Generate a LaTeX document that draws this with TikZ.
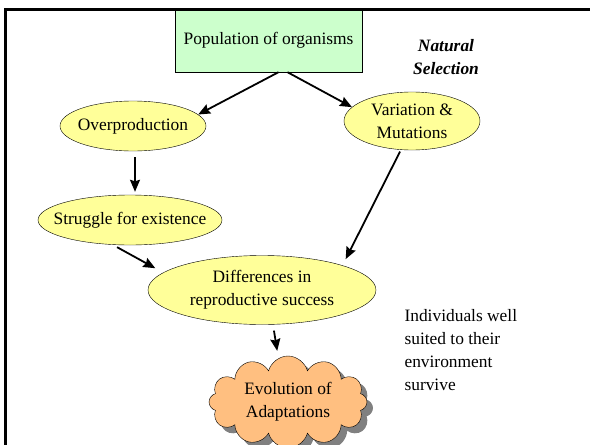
\documentclass[tikz,border=0pt]{standalone}
\usepackage{fontspec}
\setmainfont{Liberation Serif}
\usetikzlibrary{shapes.geometric, shapes.symbols, shadows, arrows.meta}

\definecolor{popgreen}{HTML}{CCFFCC}
\definecolor{stageyellow}{HTML}{FFFF99}
\definecolor{evoorange}{HTML}{FFBF80}

\begin{document}
\begin{tikzpicture}[x=1pt, y=-1pt,
    every node/.style={font=\fontsize{17.4}{23}\selectfont},
    stage/.style={ellipse, draw, fill=stageyellow, inner xsep=-15pt, inner ysep=-8pt, align=center},
    link/.style={line width=1.8pt, -{Stealth[length=12pt, width=10pt, inset=1.5pt]}}]
					\clip (0,0) rectangle (590,445);
					
					\node[draw, fill=popgreen, minimum width=187pt, minimum height=63pt] (pop) at (268.5,40.5) {Population of organisms};
					\node[align=center, font=\fontsize{17.4}{23}\selectfont\bfseries\itshape] (title) at (446,57) {Natural\\Selection};
					
					\node[stage, minimum width=146pt, minimum height=50pt] (over) at (133,126) {Overproduction};
					\node[stage, minimum width=136pt, minimum height=58pt] (var) at (412,121) {Variation \&\\Mutations};
					\node[stage, minimum width=184pt, minimum height=50pt] (strug) at (130,220) {Struggle for existence};
					\node[stage, minimum width=228pt, minimum height=69pt] (diff) at (262,290) {Differences in\\reproductive success};
					
					\node[cloud, draw, fill=evoorange, cloud puffs=12, cloud ignores aspect, inner sep=-10pt, minimum width=158pt, minimum height=92pt, align=center,
					      drop shadow={shadow xshift=6pt, shadow yshift=-6pt, fill=gray, opacity=1}] (evo) at (288,402) {Evolution of\\Adaptations};
					
					\node[anchor=west, align=left] (note) at (401,350) {Individuals well\\suited to their\\environment\\survive};
					
					\draw[link] ([xshift=10pt]pop.south) -- (over.10);
					\draw[link] ([xshift=19pt]pop.south) -- (var.167);
					\draw[link, shorten <=6pt, shorten >=3pt] ([xshift=2pt]over.south) -- ([xshift=2pt]over.south |- strug.north);
					\draw[link, shorten <=5pt, shorten >=9pt] (strug.-125) -- (diff.170);
					\draw[link, shorten <=2pt, shorten >=7pt] (var.-111) -- (diff.17);
					\draw[link, shorten <=6pt, shorten >=5pt] ([xshift=11pt]diff.south) -- ([xshift=-10pt]evo.north);
					
					\draw[line width=3pt] (5,9) rectangle (600,460);
				\end{tikzpicture}
\end{document}
